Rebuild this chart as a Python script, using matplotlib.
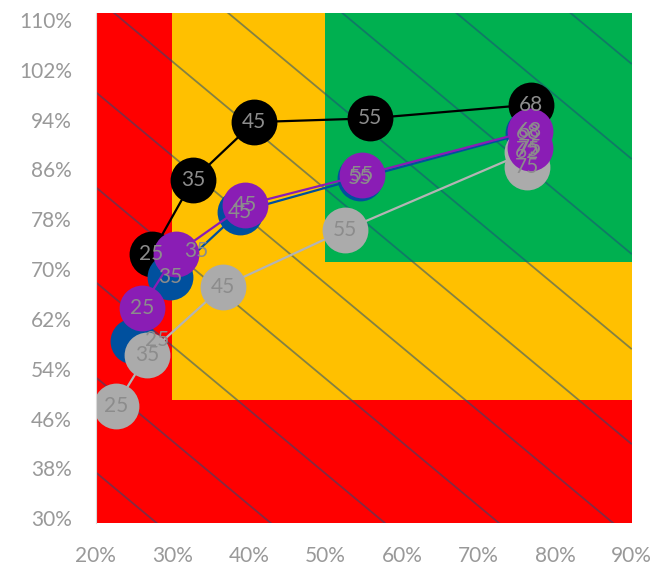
import numpy as np
import matplotlib
matplotlib.use('Agg')
import matplotlib.pyplot as plt

plt.rcParams['font.family'] = ['Lato', 'DejaVu Sans']

# ---- data (percent) ----
black_x = [27.3, 32.7, 40.7, 55.8, 76.8]
black_y = [72.5, 84.3, 93.6, 94.2, 96.4]
black_lbl = ['25', '35', '45', '55', '68']

blue_x = [24.9, 29.7, 38.8, 54.5, 76.4, 76.4]
blue_y = [58.5, 68.8, 79.2, 84.6, 91.9, 89.1]
blue_lbl = ['25', '35', '45', '55', '68', '75']

gray_x = [22.65, 26.7, 36.6, 52.6, 76.3, 76.3]
gray_y = [48.1, 56.2, 67.2, 76.3, 88.8, 86.4]
gray_lbl = ['25', '35', '45', '55', '62', '75']

purple_x = [26.0, 30.5, 39.5, 54.8, 76.7, 76.7]
purple_y = [63.8, 72.5, 80.3, 85.1, 92.2, 89.4]
purple_lbl = ['25', '35', '45', '55', '68', '75']

# background zones: red everywhere, yellow above/right of (30, 49.4),
# green above/right of (50, 71)
yellow_x0, yellow_y0 = 30, 49.4
green_x0, green_y0 = 50, 71.0
# iso-lines x + y = const
diag_sums = [58.0, 72.9, 87.8, 102.7, 117.6, 132.4, 147.3, 162.2, 177.1, 192.0]

x_ticks = list(range(20, 91, 10))
y_ticks = list(range(30, 111, 8))

# ---- figure ----
fig = plt.figure(figsize=(6.54, 5.64), dpi=100)
rect = [0.1463, 0.0722, 0.8197, 0.9048]

# background axes (zones + diagonals) span the full plot area 30..110
bg = fig.add_axes(rect, zorder=0)
bg.set_xlim(20, 90); bg.set_ylim(30, 110)
bg.fill_between([20, 90], 30, 110, color='#FF0000', lw=0)
bg.fill_between([yellow_x0, 90], yellow_y0, 110, color='#FFC000', lw=0)
bg.fill_between([green_x0, 90], green_y0, 110, color='#00B050', lw=0)
xs = np.array([20.0, 90.0])
for s in diag_sums:
    bg.plot(xs, s - xs, color='#1F4E79', alpha=0.55, lw=1.3, solid_capstyle='butt')
bg.axis('off')

# data axes
ax = fig.add_axes(rect, zorder=1)
ax.patch.set_alpha(0)
ax.set_xlim(20, 90); ax.set_ylim(29.2, 111.12)

series = [
    ('black', black_x, black_y, black_lbl, '#000000', '#000000'),
    ('blue', blue_x, blue_y, blue_lbl, '#00509E', '#00509E'),
    ('gray', gray_x, gray_y, gray_lbl, '#ABABAB', '#B4B4B4'),
    ('purple', purple_x, purple_y, purple_lbl, '#8A1DB5', '#8A1DB5'),
]
# a couple of labels were nudged sideways in the original
label_shift = {('blue', 0): (24, 1), ('purple', 1): (20, 3)}

for name, x, y, lbl, mc, lc in series:
    ax.plot(x, y, color=lc, lw=1.6, marker='o', markersize=33,
            markerfacecolor=mc, markeredgewidth=0)
for name, x, y, lbl, mc, lc in series:
    for i, (xi, yi, t) in enumerate(zip(x, y, lbl)):
        dx, dy = label_shift.get((name, i), (0, 0))
        ax.annotate(t, (xi, yi), xytext=(dx, dy), textcoords='offset pixels',
                    ha='center', va='center', fontsize=15, color='#8C8C8C', zorder=10)

ax.set_xticks(x_ticks)
ax.set_yticks(y_ticks)
ax.set_xticklabels([f'{v}%' for v in x_ticks])
ax.set_yticklabels([f'{v}%' for v in y_ticks])
ax.tick_params(length=0, labelsize=15, colors='#999999')
ax.tick_params(axis='x', pad=16)
ax.tick_params(axis='y', pad=17)
for sp in ('top', 'right', 'bottom'):
    ax.spines[sp].set_visible(False)
ax.spines['left'].set_color('#D9D9D9')

fig.savefig('out.png', dpi=100)
